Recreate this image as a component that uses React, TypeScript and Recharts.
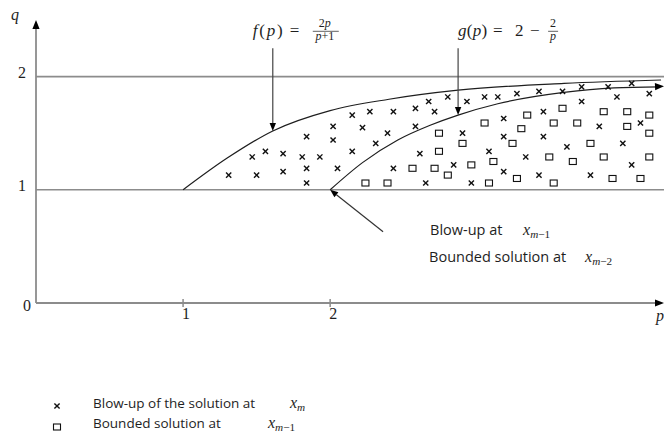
import React from 'react'
import { ComposedChart, Line, Scatter, XAxis, YAxis, ReferenceLine } from 'recharts'

// curves (p, q)
const fP = [1, 1.3, 1.61, 2, 2.4, 2.87, 3.59, 4.25]
const fQ = [1, 1.28, 1.52, 1.7, 1.8, 1.88, 1.94, 1.97]
const gP = [2, 2.22, 2.46, 2.68, 2.87, 3.14, 3.59, 3.93, 4.24]
const gQ = [1, 1.24, 1.44, 1.57, 1.66, 1.76, 1.86, 1.9, 1.91]

// crosses: blow-up at x_m
const blowP = [2.02, 1.84, 2.02, 1.47, 1.56, 1.68, 1.81, 1.93, 1.31, 1.5, 1.68, 1.84, 2.05, 1.84, 2.15, 2.27, 2.43, 2.58, 2.67, 2.71, 2.8, 2.93, 3.05, 3.14, 3.27, 3.42, 3.58, 3.71, 3.89, 4.05, 3.71, 3.95, 4.17, 2.22, 2.39, 2.58, 2.15, 2.31, 2.61, 2.43, 2.9, 3.18, 3.45, 3.18, 3.45, 3.08, 3.61, 3.83, 3.99, 4.11, 2.84, 3.18, 3.33, 3.42, 3.77, 4.05, 2.65, 2.96]
const blowQ = [1.56, 1.47, 1.44, 1.29, 1.34, 1.32, 1.29, 1.29, 1.13, 1.13, 1.16, 1.19, 1.19, 1.06, 1.66, 1.69, 1.69, 1.72, 1.78, 1.69, 1.82, 1.78, 1.82, 1.82, 1.85, 1.87, 1.87, 1.91, 1.91, 1.94, 1.78, 1.82, 1.85, 1.55, 1.5, 1.56, 1.34, 1.41, 1.32, 1.19, 1.5, 1.63, 1.69, 1.47, 1.47, 1.34, 1.38, 1.56, 1.41, 1.59, 1.22, 1.16, 1.29, 1.13, 1.13, 1.22, 1.06, 1.06]

// squares: bounded solution at x_{m-1}
const boundP = [2.24, 2.39, 2.56, 2.71, 2.8, 2.96, 3.08, 2.74, 2.74, 2.9, 3.05, 3.11, 3.24, 3.3, 3.34, 3.27, 3.49, 3.52, 3.58, 3.52, 3.65, 3.68, 3.77, 3.86, 3.86, 3.92, 4.02, 4.02, 4.17, 4.17, 4.17, 4.11]
const boundQ = [1.06, 1.06, 1.19, 1.19, 1.13, 1.22, 1.06, 1.5, 1.34, 1.41, 1.59, 1.25, 1.41, 1.54, 1.66, 1.1, 1.29, 1.59, 1.72, 1.06, 1.25, 1.59, 1.41, 1.69, 1.29, 1.1, 1.69, 1.56, 1.66, 1.5, 1.29, 1.1]

const xTicks = [1, 2]
const yTicks = [0, 1, 2]
const levels = [1, 2]

const zip = (ps: number[], qs: number[]) => ps.map((p, i) => ({ p, q: qs[i] }))

const INK = '#1e1e1e'
const AXIS = '#8c8c8c'
const SERIF = '"Liberation Serif", "DejaVu Serif", serif'
const SANS = '"Open Sans", "Liberation Sans", sans-serif'

function Sub({ x, y, base, sub, size = 16 }: { x: number; y: number; base: string; sub: string; size?: number }) {
  return (
    <text x={x} y={y} fontFamily={SERIF} fontSize={size} fill={INK}>
      <tspan fontStyle="italic">{base}</tspan>
      <tspan fontSize={size * 0.7} dy={size * 0.2} fontStyle="italic">{sub[0]}</tspan>
      {sub.length > 1 && <tspan fontSize={size * 0.7}>{sub.slice(1)}</tspan>}
    </text>
  )
}

type ArrowOpts = { head?: number; color?: string; width?: number; headOnly?: boolean; extra?: (x: number, y: number) => React.ReactNode }

function arrow({ head = 8, color = INK, width = 1.2, headOnly = false, extra }: ArrowOpts) {
  return (props: any) => {
    const { x1, y1, x2, y2 } = props
    const a = Math.atan2(y2 - y1, x2 - x1)
    const w = head * 0.4
    const bx = x2 - head * Math.cos(a)
    const by = y2 - head * Math.sin(a)
    const pts = `${x2},${y2} ${bx + w * Math.sin(a)},${by - w * Math.cos(a)} ${bx - w * Math.sin(a)},${by + w * Math.cos(a)}`
    return (
      <g>
        {!headOnly && <line x1={x1} y1={y1} x2={bx} y2={by} stroke={color} strokeWidth={width} />}
        <polygon points={pts} fill="#000" />
        {extra && extra(x1, y1)}
      </g>
    )
  }
}

const fLabel = (x: number, y: number) => (
  <g fontFamily={SERIF} fill={INK}>
    <text x={x - 20} y={y - 12} fontSize={17} textLength={30} lengthAdjust="spacing">
      <tspan fontStyle="italic">f</tspan>(<tspan fontStyle="italic">p</tspan>)
    </text>
    <text x={x + 17} y={y - 12} fontSize={17}>=</text>
    <text x={x + 52} y={y - 21} fontSize={12} textAnchor="middle">2<tspan fontStyle="italic">p</tspan></text>
    <line x1={x + 40} x2={x + 66} y1={y - 17} y2={y - 17} stroke={INK} strokeWidth={0.7} />
    <text x={x + 52} y={y - 8} fontSize={12} textAnchor="middle"><tspan fontStyle="italic">p</tspan>+1</text>
  </g>
)

const gLabel = (x: number, y: number) => (
  <g fontFamily={SERIF} fill={INK}>
    <text x={x} y={y - 12} fontSize={17} textLength={29} lengthAdjust="spacing">
      <tspan fontStyle="italic">g</tspan>(<tspan fontStyle="italic">p</tspan>)
    </text>
    <text x={x + 35} y={y - 12} fontSize={17}>=</text>
    <text x={x + 57} y={y - 12} fontSize={17}>2</text>
    <text x={x + 72} y={y - 12} fontSize={17}>−</text>
    <text x={x + 95} y={y - 21} fontSize={12} textAnchor="middle">2</text>
    <line x1={x + 90} x2={x + 100} y1={y - 17} y2={y - 17} stroke={INK} strokeWidth={0.7} />
    <text x={x + 95} y={y - 8} fontSize={12} textAnchor="middle" fontStyle="italic">p</text>
  </g>
)

const noteLabel = (x: number, y: number) => (
  <g>
    <text x={x + 47} y={y + 3} fontFamily={SANS} fontSize={14.5} fill={INK}>Blow-up at</text>
    <Sub x={x + 140} y={y + 3} base="x" sub="m−1" />
    <text x={x + 46} y={y + 30} fontFamily={SANS} fontSize={14.5} fill={INK}>Bounded solution at</text>
    <Sub x={x + 202} y={y + 30} base="x" sub="m−2" />
  </g>
)

function Cross(props: any) {
  const { cx, cy } = props
  const s = 2.6
  return (
    <g stroke="#111" strokeWidth={1.4}>
      <line x1={cx - s} y1={cy - s} x2={cx + s} y2={cy + s} />
      <line x1={cx - s} y1={cy + s} x2={cx + s} y2={cy - s} />
    </g>
  )
}

function Box(props: any) {
  const { cx, cy } = props
  return <rect x={cx - 3.5} y={cy - 3} width={7} height={6} fill="#fff" stroke="#111" strokeWidth={1.1} />
}

function XTick(props: any) {
  const { x, y, payload } = props
  return (
    <g>
      <line x1={x} x2={x} y1={y - 4} y2={y + 4} stroke={AXIS} strokeWidth={1.5} />
      <text x={x + 3} y={y + 16} textAnchor="middle" fontFamily={SERIF} fontSize={16} fill={INK}>{payload.value}</text>
    </g>
  )
}

function YTick(props: any) {
  const { x, y, payload } = props
  const zero = payload.value === 0
  return (
    <text x={zero ? x - 9 : x - 14} y={zero ? y + 8 : y + 1} textAnchor="middle" fontFamily={SERIF} fontSize={16} fill={INK}>
      {payload.value}
    </text>
  )
}

export default function App() {
  return (
    <div style={{ position: 'absolute', left: 0, top: 0, width: 664, height: 435, background: '#fff', overflow: 'hidden' }}>
      <ComposedChart width={664} height={435} margin={{ top: 20, right: 0, bottom: 102, left: 0 }}>
        <XAxis type="number" dataKey="p" domain={[0, 4.27]} ticks={xTicks} allowDataOverflow axisLine={false} tickLine={false} tickSize={0} tickMargin={0} height={30} tick={<XTick />} />
        <YAxis type="number" dataKey="q" domain={[0, 2.5]} ticks={yTicks} allowDataOverflow axisLine={false} tickLine={false} tickSize={0} tickMargin={0} width={36} tick={<YTick />} />

        {levels.map(l => (
          <ReferenceLine key={l} y={l} stroke={AXIS} strokeWidth={1.6} ifOverflow="visible" />
        ))}
        <ReferenceLine segment={[{ x: 0, y: 0 }, { x: 4.27, y: 0 }]} ifOverflow="visible" shape={arrow({ color: AXIS, width: 1.8, head: 9 })} />
        <ReferenceLine segment={[{ x: 0, y: 0 }, { x: 0, y: 2.5 }]} ifOverflow="visible" shape={arrow({ color: AXIS, width: 1.8, head: 9 })} />

        <Line data={zip(fP, fQ)} dataKey="q" type="monotone" stroke={INK} strokeWidth={1.2} dot={false} isAnimationActive={false} />
        <Line data={zip(gP, gQ)} dataKey="q" type="monotone" stroke={INK} strokeWidth={1.2} dot={false} isAnimationActive={false} />
        <ReferenceLine segment={[{ x: 4.1, y: 1.905 }, { x: 4.27, y: 1.915 }]} ifOverflow="visible" shape={arrow({ head: 9, headOnly: true })} />

        <Scatter data={zip(blowP, blowQ)} dataKey="q" shape={<Cross />} isAnimationActive={false} />
        <Scatter data={zip(boundP, boundQ)} dataKey="q" shape={<Box />} isAnimationActive={false} />

        <ReferenceLine segment={[{ x: 1.61, y: 2.25 }, { x: 1.61, y: 1.52 }]} ifOverflow="visible" shape={arrow({ color: '#444', extra: fLabel })} />
        <ReferenceLine segment={[{ x: 2.87, y: 2.25 }, { x: 2.87, y: 1.66 }]} ifOverflow="visible" shape={arrow({ color: '#444', extra: gLabel })} />
        <ReferenceLine segment={[{ x: 2.36, y: 0.63 }, { x: 2, y: 1 }]} ifOverflow="visible" shape={arrow({ color: '#333', extra: noteLabel })} />
      </ComposedChart>

      <svg width={664} height={435} style={{ position: 'absolute', left: 0, top: 0, pointerEvents: 'none' }}>
        <text x={11} y={20} fontFamily={SERIF} fontStyle="italic" fontSize={16} fill={INK}>q</text>
        <text x={656} y={321} fontFamily={SERIF} fontStyle="italic" fontSize={16} fill={INK}>p</text>
        <Cross cx={57} cy={406} />
        <text x={93} y={408} fontFamily={SANS} fontSize={13.5} fill={INK}>Blow-up of the solution at</text>
        <Sub x={290} y={408} base="x" sub="m" />
        <Box cx={57} cy={427} />
        <text x={93} y={428} fontFamily={SANS} fontSize={13.5} fill={INK}>Bounded solution at</text>
        <Sub x={268} y={428} base="x" sub="m−1" />
      </svg>
    </div>
  )
}
